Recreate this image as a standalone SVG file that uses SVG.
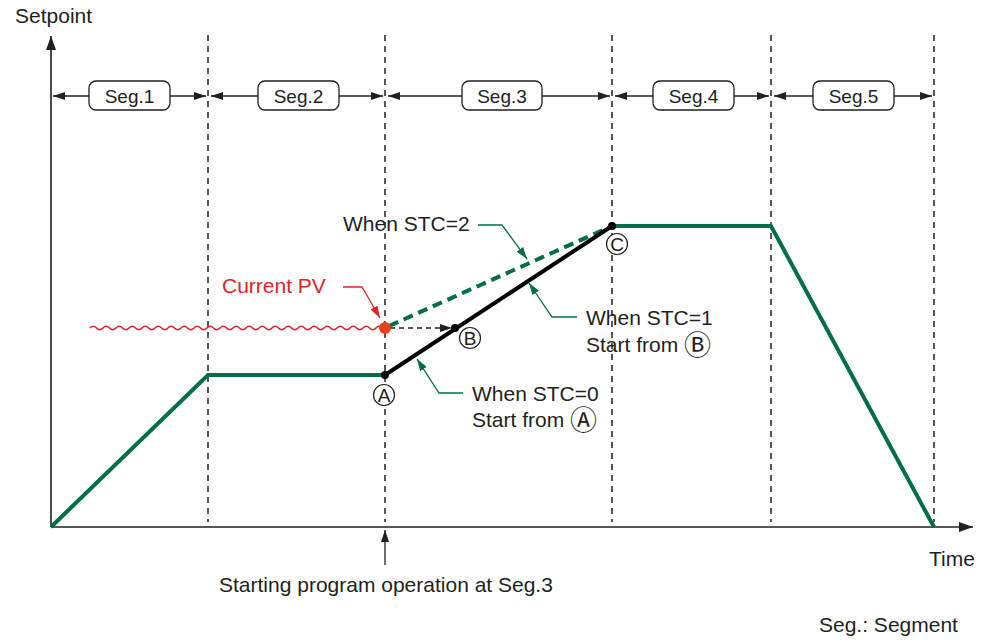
<svg xmlns="http://www.w3.org/2000/svg" width="989" height="640" viewBox="0 0 989 640">
<style>
text{font-family:"Liberation Sans","Noto Sans CJK JP",Arial,sans-serif;fill:#231f20}
.t21{font-size:21px}
.seg{font-size:19px}
.box{fill:#fff;stroke:#231f20;stroke-width:1.3}
.axis{stroke:#231f20;stroke-width:1.6;fill:none}
.vdash{stroke:#231f20;stroke-width:1.5;stroke-dasharray:6 5;fill:none}
.sarr{stroke:#231f20;stroke-width:1.3;fill:none}
.green{stroke:#006f47;stroke-width:4;fill:none;stroke-linejoin:miter}
.lead{stroke:#006f47;stroke-width:1.3;fill:none}
.ring{fill:#fff;stroke:#231f20;stroke-width:1.2}
.cl{font-size:19px}
.big{font-size:27px}
</style>
<defs>
<marker id="ah" viewBox="0 0 12 8" markerWidth="12" markerHeight="8" refX="12" refY="4" orient="auto" markerUnits="userSpaceOnUse"><path d="M0,0 L12,4 L0,8 z" fill="#231f20"/></marker>
<marker id="ahBig" viewBox="0 0 14 10" markerWidth="14" markerHeight="10" refX="14" refY="5" orient="auto" markerUnits="userSpaceOnUse"><path d="M0,0 L14,5 L0,10 z" fill="#231f20"/></marker>
<marker id="ahG" viewBox="0 0 12 8" markerWidth="12" markerHeight="8" refX="12" refY="4" orient="auto" markerUnits="userSpaceOnUse"><path d="M0,0 L12,4 L0,8 z" fill="#006f47"/></marker>
<marker id="ahR" viewBox="0 0 12 8" markerWidth="12" markerHeight="8" refX="12" refY="4" orient="auto" markerUnits="userSpaceOnUse"><path d="M0,0 L12,4 L0,8 z" fill="#d9272e"/></marker>
</defs>

<g id="axes">
<line class="axis" x1="51" y1="527" x2="51" y2="36" marker-end="url(#ahBig)"/>
<line class="axis" x1="51" y1="527" x2="973" y2="527" marker-end="url(#ahBig)"/>
<text x="15" y="23" class="t21">Setpoint</text>
<text x="929" y="566" class="t21">Time</text>
</g>

<g id="boundaries">
<line class="vdash" x1="208" y1="35" x2="208" y2="522"/>
<line class="vdash" x1="385" y1="35" x2="385" y2="522"/>
<line class="vdash" x1="612" y1="35" x2="612" y2="522"/>
<line class="vdash" x1="771" y1="35" x2="771" y2="522"/>
<line class="vdash" x1="934" y1="35" x2="934" y2="522"/>
</g>

<g id="connectors">
<line class="sarr" x1="89" y1="96" x2="53" y2="96" marker-end="url(#ah)"/>
<line class="sarr" x1="170" y1="96" x2="206" y2="96" marker-end="url(#ah)"/>
<line class="sarr" x1="258" y1="96" x2="211" y2="96" marker-end="url(#ah)"/>
<line class="sarr" x1="339" y1="96" x2="383" y2="96" marker-end="url(#ah)"/>
<line class="sarr" x1="462" y1="96" x2="388" y2="96" marker-end="url(#ah)"/>
<line class="sarr" x1="542" y1="96" x2="610" y2="96" marker-end="url(#ah)"/>
<line class="sarr" x1="653" y1="96" x2="615" y2="96" marker-end="url(#ah)"/>
<line class="sarr" x1="734" y1="96" x2="769" y2="96" marker-end="url(#ah)"/>
<line class="sarr" x1="813" y1="96" x2="774" y2="96" marker-end="url(#ah)"/>
<line class="sarr" x1="894" y1="96" x2="932" y2="96" marker-end="url(#ah)"/>
<line class="sarr" x1="385" y1="565" x2="385" y2="530" marker-end="url(#ah)"/>
<polyline class="lead" points="478,225 502,225 527,259" marker-end="url(#ahG)"/>
<polyline class="lead" points="577,317 552,317 529,283" marker-end="url(#ahG)"/>
<polyline class="lead" points="463,393 439,393 417,359" marker-end="url(#ahG)"/>
<polyline points="343,287 362,287 380,318" fill="none" stroke="#d9272e" stroke-width="1.3" marker-end="url(#ahR)"/>
<line x1="390" y1="328" x2="452" y2="328" stroke="#231f20" stroke-width="1.3" stroke-dasharray="5 4" marker-end="url(#ah)"/>
</g>

<g id="seg1"><rect class="box" x="89" y="81" width="81" height="29" rx="7"/><text x="129.5" y="103" class="seg" text-anchor="middle">Seg.1</text></g>
<g id="seg2"><rect class="box" x="258" y="81" width="81" height="29" rx="7"/><text x="298.5" y="103" class="seg" text-anchor="middle">Seg.2</text></g>
<g id="seg3"><rect class="box" x="462" y="81" width="80" height="29" rx="7"/><text x="502" y="103" class="seg" text-anchor="middle">Seg.3</text></g>
<g id="seg4"><rect class="box" x="653" y="81" width="81" height="29" rx="7"/><text x="693.5" y="103" class="seg" text-anchor="middle">Seg.4</text></g>
<g id="seg5"><rect class="box" x="813" y="81" width="81" height="29" rx="7"/><text x="853.5" y="103" class="seg" text-anchor="middle">Seg.5</text></g>

<g id="profile">
<polyline class="green" points="51,527 208,375 385,375"/>
<polyline class="green" points="612,226 771,226 934,527"/>
<line x1="389" y1="326" x2="612" y2="226" stroke="#006f47" stroke-width="4" stroke-dasharray="10 6"/>
<line x1="385" y1="375" x2="612" y2="226" stroke="#000" stroke-width="4"/>
<path d="M90,328 q3.25,-3.5 6.5,0 t6.5,0 t6.5,0 t6.5,0 t6.5,0 t6.5,0 t6.5,0 t6.5,0 t6.5,0 t6.5,0 t6.5,0 t6.5,0 t6.5,0 t6.5,0 t6.5,0 t6.5,0 t6.5,0 t6.5,0 t6.5,0 t6.5,0 t6.5,0 t6.5,0 t6.5,0 t6.5,0 t6.5,0 t6.5,0 t6.5,0 t6.5,0 t6.5,0 t6.5,0 t6.5,0 t6.5,0 t6.5,0 t6.5,0 t6.5,0 t6.5,0 t6.5,0 t6.5,0 t6.5,0 t6.5,0 t6.5,0 t6.5,0 t6.5,0 t6.5,0 t6.5,0" fill="none" stroke="#d9272e" stroke-width="1.6"/>
</g>

<g id="pointA"><circle cx="385" cy="375" r="4" fill="#000"/><circle class="ring" cx="384" cy="395" r="10.5"/><text x="384" y="402" class="cl" text-anchor="middle">A</text></g>
<g id="pointB"><circle cx="455" cy="328" r="4" fill="#000"/><circle class="ring" cx="470" cy="338" r="10.5"/><text x="470" y="345" class="cl" text-anchor="middle">B</text></g>
<g id="pointC"><circle cx="612" cy="226" r="4" fill="#000"/><circle class="ring" cx="617" cy="244" r="10.5"/><text x="617" y="251" class="cl" text-anchor="middle">C</text></g>
<g id="currentPV"><circle cx="385" cy="328" r="6" fill="#e8401c"/><text x="222" y="293" class="t21" style="fill:#d9272e">Current PV</text></g>

<g id="labels">
<text x="343" y="231" class="t21">When STC=2</text>
<text x="586" y="325" class="t21">When STC=1</text>
<text x="586" y="352" class="t21">Start from <tspan class="big" dy="3">Ⓑ</tspan></text>
<text x="472" y="401" class="t21">When STC=0</text>
<text x="472" y="427" class="t21">Start from <tspan class="big" dy="3">Ⓐ</tspan></text>
<text x="219" y="592" class="t21">Starting program operation at Seg.3</text>
<text x="819" y="632" class="t21">Seg.: Segment</text>
</g>
</svg>
